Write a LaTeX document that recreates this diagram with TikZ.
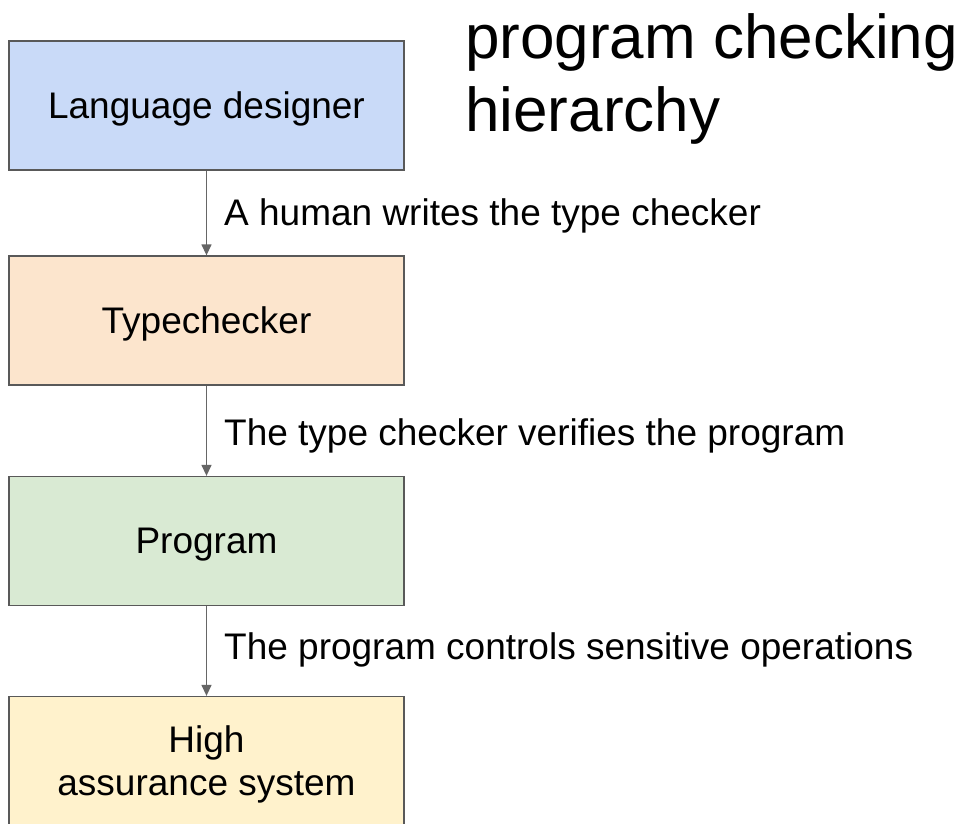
\documentclass[tikz,border=0pt]{standalone}
\usepackage{fontspec}
\setmainfont{Liberation Sans}
\usetikzlibrary{arrows.meta}
\definecolor{bblue}{HTML}{C9DAF8}
\definecolor{borange}{HTML}{FCE5CD}
\definecolor{bgreen}{HTML}{D9EAD3}
\definecolor{byellow}{HTML}{FFF2CC}
\definecolor{edgegray}{HTML}{595959}
\definecolor{arrowgray}{HTML}{666666}
\begin{document}
\begin{tikzpicture}[x=1pt,y=-1pt,
  box/.style={draw=edgegray, line width=1.3pt, minimum width=395pt, minimum height=129pt, inner sep=0pt, font=\fontsize{37}{43}\selectfont, align=center, text depth=1pt},
  conn/.style={draw=arrowgray, line width=1.3pt, -{Triangle[length=11pt,width=10pt]}},
  lbl/.style={font=\fontsize{37}{44}\selectfont, anchor=west, inner sep=0pt},
  title/.style={font=\fontsize{62}{73}\selectfont, anchor=north west, inner sep=0pt, align=left}]
\useasboundingbox (0,0) rectangle (972,823);
\clip (0,0) rectangle (972,823);
\fill[white] (0,0) rectangle (972,823);
\node[box, fill=bblue] (lang) at (206.5,105.5) {Language designer};
\node[box, fill=borange] (type) at (206.5,320.5) {Typechecker};
\node[box, fill=bgreen] (prog) at (206.5,541) {Program};
\node[box, fill=byellow] (high) at (206.5,761) {High\\assurance system};
\draw[conn] (lang) -- (type);
\draw[conn] (type) -- (prog);
\draw[conn] (prog) -- (high);
\node[lbl] (l1) at (224,216) {A human writes the type checker};
\node[lbl] (l2) at (224,436) {The type checker verifies the program};
\node[lbl] (l3) at (224,650) {The program controls sensitive operations};
\node[title] (t) at (465,13) {program checking\\hierarchy};
\end{tikzpicture}
\end{document}
